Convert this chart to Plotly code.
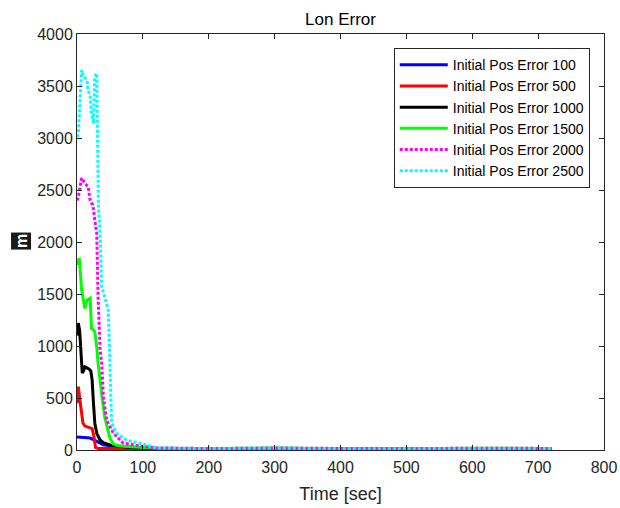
import plotly.graph_objects as go

# Longitudinal position error over time for several initial position errors
t_100 = [0, 5, 10, 15, 20, 25, 30, 35, 40, 50, 60, 70, 80, 100, 120, 200, 300, 400, 500, 600, 720]
e_100 = [125, 122, 120, 118, 115, 100, 85, 65, 50, 40, 30, 25, 20, 15, 12, 10, 14, 10, 10, 14, 12]

t_500 = [0, 2, 4, 6, 9, 12, 16, 20, 23, 26, 28, 32, 40, 60, 100, 120, 200, 300, 400, 500, 600, 720]
e_500 = [450, 610, 500, 390, 260, 230, 220, 215, 205, 120, 25, 15, 15, 15, 15, 12, 10, 14, 10, 10, 14, 12]

t_1000 = [0, 2, 4, 6, 8, 10, 12, 15, 18, 21, 23, 25, 27, 30, 35, 40, 50, 60, 70, 80, 100, 120, 200, 300, 400, 500, 600, 720]
e_1000 = [1100, 1220, 1150, 900, 740, 760, 800, 790, 780, 760, 670, 450, 260, 160, 96, 70, 48, 40, 30, 25, 20, 15, 12, 16, 12, 12, 16, 14]

t_1500 = [0, 3.5, 7, 12, 15, 20, 22, 27, 30, 32, 38, 42, 47, 50, 55, 60, 70, 80, 100, 120, 200, 300, 400, 500, 600, 720]
e_1500 = [1780, 1845, 1540, 1360, 1440, 1460, 1170, 1140, 990, 836, 510, 317, 190, 115, 60, 45, 35, 30, 25, 18, 14, 18, 12, 12, 18, 15]

t_2000 = [0, 2, 7, 12, 17, 20, 22, 24, 27, 30, 32, 35, 37.5, 40, 45, 55, 70, 85, 100, 120, 200, 300, 400, 500, 600, 720]
e_2000 = [2400, 2435, 2615, 2565, 2530, 2400, 2375, 2355, 2210, 2086, 1470, 962, 836, 513, 288, 163, 67, 48, 35, 20, 14, 18, 12, 12, 18, 15]

t_2500 = [0, 2, 7, 10, 15, 17, 20, 22, 25, 27, 30, 32.5, 35, 37.5, 42, 47.5, 50, 52.5, 60, 75, 115, 120, 200, 300, 400, 500, 600, 720]
e_2500 = [3010, 3045, 3654, 3590, 3560, 3460, 3400, 3237, 3141, 3590, 3622, 2340, 2086, 1570, 1474, 1346, 836, 260, 163, 96, 32, 20, 14, 18, 12, 12, 18, 15]

series = [
    ("Initial Pos Error 100", t_100, e_100, "#0000ff", "solid"),
    ("Initial Pos Error 500", t_500, e_500, "#ff0000", "solid"),
    ("Initial Pos Error 1000", t_1000, e_1000, "#000000", "solid"),
    ("Initial Pos Error 1500", t_1500, e_1500, "#00ff00", "solid"),
    ("Initial Pos Error 2000", t_2000, e_2000, "#ff00ff", "3px,2px"),
    ("Initial Pos Error 2500", t_2500, e_2500, "#00ffff", "3px,2px"),
]

x_ticks = [0, 100, 200, 300, 400, 500, 600, 700, 800]
y_ticks = [0, 500, 1000, 1500, 2000, 2500, 3000, 3500, 4000]

fig = go.Figure()
for name, t, e, color, dash in series:
    fig.add_trace(go.Scatter(
        x=t, y=e, mode="lines", name=name,
        line=dict(color=color, width=3, dash=dash),
    ))

font_family = "Arial, Liberation Sans, sans-serif"
axis_common = dict(
    showline=True, linecolor="#262626", linewidth=1, mirror="ticks",
    ticks="inside", ticklen=5, tickcolor="#262626", showgrid=False,
    zeroline=False, automargin=False,
    tickfont=dict(size=16, color="#262626", family=font_family),
)

fig.update_layout(
    width=620, height=508,
    margin=dict(l=77, r=16, t=34, b=58),
    paper_bgcolor="white", plot_bgcolor="white",
    font=dict(family=font_family, color="#262626"),
    title=dict(text="Lon Error", x=0.5, xref="paper", xanchor="center",
               y=1 - 19 / 508, yanchor="middle",
               font=dict(size=17, color="#000000")),
    xaxis=dict(range=[0, 800], tickvals=x_ticks, ticklabelstandoff=3,
               title=dict(text="Time [sec]", font=dict(size=18), standoff=12),
               **axis_common),
    yaxis=dict(range=[0, 4000], tickvals=y_ticks, **axis_common),
    legend=dict(
        x=0.973, y=0.966, xanchor="right", yanchor="top",
        bgcolor="white", bordercolor="#262626", borderwidth=1,
        font=dict(size=14, color="#000000"), tracegroupgap=0,
        itemwidth=48,
    ),
    showlegend=True,
)

# y-axis unit label
fig.add_annotation(
    text="<b>m</b>", xref="paper", yref="paper", x=-0.1057, y=0.503,
    xanchor="center", yanchor="middle",
    showarrow=False, textangle=-90, bgcolor="#1a1a1a",
    font=dict(size=16, color="white", family=font_family),
    borderpad=1,
)

fig.write_html("out.html")
